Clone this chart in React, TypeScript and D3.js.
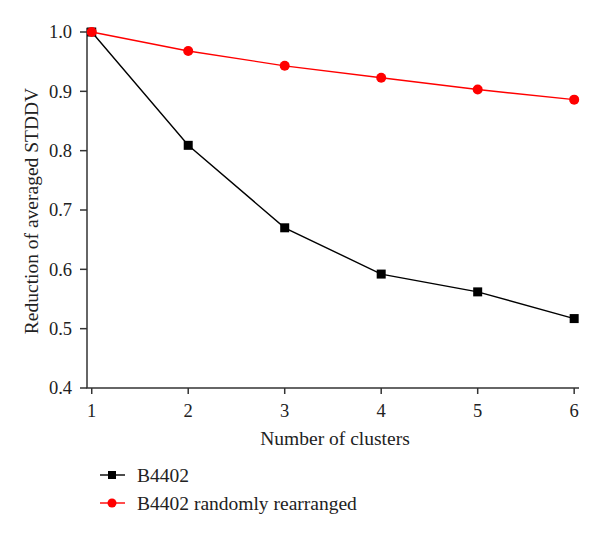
import React from "react";
import * as d3 from "d3";

const clusters = [1, 2, 3, 4, 5, 6];
const b4402 = [1.0, 0.809, 0.67, 0.592, 0.562, 0.517];
const b4402Random = [1.0, 0.968, 0.943, 0.923, 0.903, 0.886];
const yTicks = [0.4, 0.5, 0.6, 0.7, 0.8, 0.9, 1.0];
const seriesNames = ["B4402", "B4402 randomly rearranged"];

const W = 600;
const H = 536;
const FONT = "Liberation Serif";
const FS = 19.5;

export default function App() {
  const x = d3.scaleLinear().domain([0.951, 6.05]).range([87, 579]);
  const y = d3.scaleLinear().domain([0.4, 1.0]).range([388, 32]);
  const line = d3
    .line<number>()
    .x((_, i) => x(clusters[i]))
    .y((d) => y(d));
  const axisColor = "#333";
  const txt = { fontFamily: FONT, fontSize: FS, fill: "#222" } as React.CSSProperties;
  const tick = { fontFamily: FONT, fontSize: 18.5, fill: "#222" } as React.CSSProperties;
  return (
    <svg
      width={W}
      height={H}
      style={{ position: "absolute", left: 0, top: 0, background: "#fff" }}
    >
      {/* axes */}
      <line x1={x.range()[0]} x2={x.range()[0]} y1={y(1.007)} y2={y(0.4)} stroke={axisColor} strokeWidth={1.5} />
      <line x1={x.range()[0] - 0.75} x2={x.range()[1]} y1={y(0.4)} y2={y(0.4)} stroke={axisColor} strokeWidth={1.5} />
      {yTicks.map((t) => (
        <g key={t}>
          <line x1={x.range()[0] - 7} x2={x.range()[0]} y1={y(t)} y2={y(t)} stroke={axisColor} strokeWidth={1.5} />
          <text x={72} y={y(t)} dy="0.35em" textAnchor="end" style={tick}>
            {t.toFixed(1)}
          </text>
        </g>
      ))}
      {clusters.map((c) => (
        <g key={c}>
          <line x1={x(c)} x2={x(c)} y1={y(0.4)} y2={y(0.4) + 6} stroke={axisColor} strokeWidth={1.5} />
          <text x={x(c)} y={417} textAnchor="middle" style={tick}>
            {c}
          </text>
        </g>
      ))}
      <text x={335} y={445} textAnchor="middle" style={txt}>
        Number of clusters
      </text>
      <text transform={`translate(38,${211}) rotate(-90)`} textAnchor="middle" style={txt}>
        Reduction of averaged STDDV
      </text>

      {/* black series */}
      <path d={line(b4402) || ""} fill="none" stroke="#000" strokeWidth={1.4} />
      {b4402.map((v, i) => (
        <rect key={i} x={x(clusters[i]) - 4.5} y={y(v) - 4.5} width={9} height={9} fill="#000" />
      ))}
      {/* red series */}
      <path d={line(b4402Random) || ""} fill="none" stroke="#f00" strokeWidth={1.4} />
      {b4402Random.map((v, i) => (
        <circle key={i} cx={x(clusters[i])} cy={y(v)} r={5} fill="#f00" />
      ))}

      {/* legend */}
      <line x1={100} x2={125} y1={475} y2={475} stroke="#000" strokeWidth={1.4} />
      <rect x={108} y={471} width={8} height={8} fill="#000" />
      <text x={137} y={475} dy="0.35em" style={txt}>
        {seriesNames[0]}
      </text>
      <line x1={100} x2={125} y1={503} y2={503} stroke="#f00" strokeWidth={1.4} />
      <circle cx={112} cy={503} r={4.5} fill="#f00" />
      <text x={137} y={503} dy="0.35em" style={txt}>
        {seriesNames[1]}
      </text>
    </svg>
  );
}
